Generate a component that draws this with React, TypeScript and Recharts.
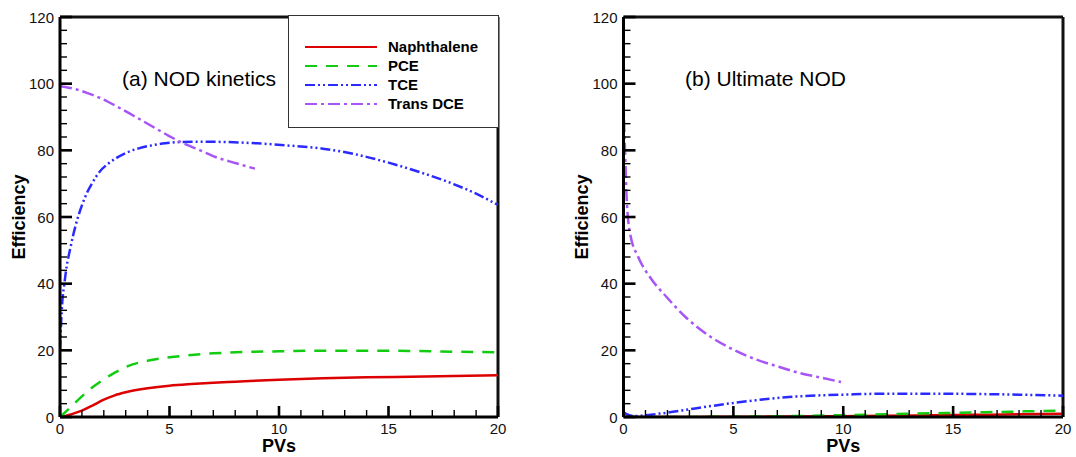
import React from 'react';
import { LineChart, Line, XAxis, YAxis, Legend, ReferenceLine } from 'recharts';

// ---------- data ----------
const naphAX = [0, 0.25, 0.5, 1, 1.5, 2, 2.5, 3, 4, 5, 6, 7, 8, 10, 12, 14, 16, 18, 20];
const naphAY = [0, 0.3, 0.8, 1.9, 3.5, 5.2, 6.5, 7.4, 8.6, 9.4, 9.9, 10.3, 10.6, 11.2, 11.6, 11.9, 12.1, 12.3, 12.5];

const pceAX = [0, 0.5, 1, 1.5, 2, 2.5, 3, 4, 5, 6, 7, 8, 10, 12, 14, 16, 18, 20];
const pceAY = [0, 3.0, 6.2, 9.0, 11.3, 13.3, 15.0, 16.9, 17.9, 18.6, 19.1, 19.4, 19.7, 19.9, 19.9, 19.8, 19.6, 19.4];

const tceAX = [0, 0.05, 0.1, 0.2, 0.3, 0.45, 0.6, 0.8, 1, 1.25, 1.5, 1.8, 2.2, 2.6, 3, 3.6, 4.2, 4.8, 5.5, 6.4, 7.5, 9, 10.5, 12, 13.5, 15, 16.5, 18, 19, 20];
const tceAY = [20, 28, 34, 40, 45, 50, 54.5, 59.5, 63.5, 67.5, 70.5, 73.5, 76, 77.8, 79.2, 80.6, 81.5, 82.1, 82.5, 82.6, 82.5, 82.1, 81.4, 80.5, 78.8, 76.3, 73.3, 69.8, 67, 63.6];

const transAX = [0, 0.4, 0.8, 1.2, 1.8, 2.5, 3.3, 4.1, 4.9, 5.6, 6.4, 7.1, 8, 8.9];
const transAY = [99.2, 98.8, 98.2, 97.3, 95.8, 93.5, 90.6, 87.6, 84.6, 82.2, 80, 78, 76.2, 74.5];

const naphBX = [0, 2, 4, 6, 8, 10, 12, 14, 16, 18, 20];
const naphBY = [0, 0, 0.05, 0.1, 0.15, 0.25, 0.35, 0.5, 0.65, 0.8, 1.0];

const pceBX = [0, 2, 3, 4, 5, 6, 8, 10, 12, 14, 15, 16, 17, 18, 19, 20];
const pceBY = [0, 0, 0, 0.05, 0.1, 0.15, 0.3, 0.55, 0.85, 1.1, 1.25, 1.4, 1.5, 1.65, 1.8, 1.9];

const tceBX = [0, 0.2, 0.5, 1, 1.5, 2, 3, 4, 5, 6, 7, 8, 9, 10, 12, 14, 16, 18, 20];
const tceBY = [1.5, 0.7, 0.3, 0.5, 0.9, 1.3, 2.3, 3.3, 4.2, 5.0, 5.7, 6.2, 6.5, 6.7, 7.0, 7.0, 6.9, 6.7, 6.4];

const transBX = [0, 0.03, 0.07, 0.14, 0.3, 0.67, 1.2, 1.96, 2.87, 3.93, 5, 6.05, 7.1, 8, 9, 9.9];
const transBY = [96, 88, 80, 66, 55, 48, 42, 36, 29.7, 24.2, 20.2, 17.2, 15, 13.2, 11.8, 10.5];

const seriesNames = ['Naphthalene', 'PCE', 'TCE', 'Trans DCE'];
const xTicks = [0, 1, 2, 3, 4, 5, 6, 7, 8, 9, 10, 11, 12, 13, 14, 15, 16, 17, 18, 19, 20];
const yTicks = [0, 4, 8, 12, 16, 20, 24, 28, 32, 36, 40, 44, 48, 52, 56, 60, 64, 68, 72, 76, 80, 84, 88, 92, 96, 100, 104, 108, 112, 116, 120];
const xMajorStep = 5;
const yMajorStep = 20;
const X_MAX = 20;
const Y_MAX = 120;

// ---------- styles ----------
const STYLES = [
  { color: '#dd0000', dash: undefined as string | undefined },
  { color: '#11cc11', dash: '12 9' },
  { color: '#2a2aff', dash: '10 3 2 3 2 3' },
  { color: '#a855f7', dash: '12 4 3 4' },
];

const zip = (xs: number[], ys: number[]) => xs.map((x, i) => ({ x, y: ys[i] }));

const panelA = [zip(naphAX, naphAY), zip(pceAX, pceAY), zip(tceAX, tceAY), zip(transAX, transAY)];
const panelB = [zip(naphBX, naphBY), zip(pceBX, pceBY), zip(tceBX, tceBY), zip(transBX, transBY)];

const FONT = '"Liberation Sans", Arial, sans-serif';
const TM = 6; // tick margin
const TOP = 17;
const XAXIS_H = 40;
const H = 457;

// panel layout: chart left offset, chart width, y-axis width, right margin
const PANELS = [
  { left: 0, width: 530, yw: 60, right: 32, titleX: 18.5, legend: true, data: panelA },
  { left: 560, width: 516, yw: 63.5, right: 13, titleX: 22, legend: false, data: panelB },
];

function YTick(props: any) {
  const x = Number(props.x);
  const y = Number(props.y);
  const v = Number(props.payload.value);
  if (v % yMajorStep !== 0) return <g />;
  return (
    <text x={x} y={y} textAnchor="end" dominantBaseline="central" fontSize={15} fontFamily={FONT} fill="#111">
      {v}
    </text>
  );
}

function XTick(props: any) {
  const x = Number(props.x);
  const y = Number(props.y);
  const v = Number(props.payload.value);
  if (v % xMajorStep !== 0) return <g />;
  return (
    <text x={x} y={y + 11} textAnchor="middle" fontSize={15} fontFamily={FONT} fill="#111">
      {v}
    </text>
  );
}

const yTitle = (cx: number) => (props: any) => {
  const vb = props.viewBox || { x: 0, y: 17, height: 400 };
  const tx = vb.x + cx;
  const ty = vb.y + vb.height / 2;
  return (
    <text
      x={tx}
      y={ty}
      transform={`rotate(-90, ${tx}, ${ty})`}
      textAnchor="middle"
      dominantBaseline="central"
      fontSize={18}
      fontWeight="bold"
      fontFamily={FONT}
      fill="#000"
    >
      Efficiency
    </text>
  );
};

const LegendBox = () => (
  <div
    style={{
      width: 211,
      height: 113,
      boxSizing: 'border-box',
      border: '1.5px solid #333',
      background: '#fff',
    }}
  >
    <svg width={208} height={110}>
      {seriesNames.map((n, i) => {
        const cy = 31 + i * 19;
        return (
          <g key={n}>
            <line x1={16} x2={88} y1={cy} y2={cy} stroke={STYLES[i].color} strokeWidth={2.2} strokeDasharray={STYLES[i].dash} />
            <text x={99} y={cy + 5} fontSize={15} fontWeight="bold" fontFamily={FONT} fill="#000">
              {n}
            </text>
          </g>
        );
      })}
    </svg>
  </div>
);

function renderPanel(p: any) {
  return (
    <LineChart width={p.width} height={H} margin={{ top: TOP, right: p.right, bottom: 0, left: 0 }}>
      <XAxis
        type="number"
        dataKey="x"
        domain={[0, X_MAX]}
        ticks={xTicks}
        interval={0}
        height={XAXIS_H}
        tickSize={0}
        tickMargin={TM}
        tick={(t: any) => <XTick {...t} />}
        tickLine={false}
        axisLine={{ stroke: '#000', strokeWidth: 3 }}
        allowDataOverflow
        label={{ value: 'PVs', position: 'insideBottom', offset: 5, fontSize: 18, fontWeight: 'bold', fontFamily: FONT, fill: '#000' }}
      />
      <YAxis
        type="number"
        dataKey="y"
        domain={[0, Y_MAX]}
        ticks={yTicks}
        interval={0}
        width={p.yw}
        tickSize={0}
        tickMargin={TM}
        tick={(t: any) => <YTick {...t} />}
        tickLine={false}
        axisLine={{ stroke: '#000', strokeWidth: 3 }}
        allowDataOverflow
        label={{ content: yTitle(p.titleX) }}
      />
      <ReferenceLine y={Y_MAX} stroke="#111" strokeWidth={3} />
      <ReferenceLine x={X_MAX} stroke="#111" strokeWidth={3} />
      {p.data.map((d: any, i: number) => (
        <Line
          key={seriesNames[i]}
          data={d}
          dataKey="y"
          name={seriesNames[i]}
          type="monotone"
          stroke={STYLES[i].color}
          strokeWidth={2.5}
          strokeDasharray={STYLES[i].dash}
          dot={false}
          activeDot={false}
          isAnimationActive={false}
        />
      ))}
      {p.legend && (
        <Legend
          layout="horizontal"
          verticalAlign="middle"
          content={() => <LegendBox />}
          wrapperStyle={{ left: 288, top: 15, width: 211, height: 113 }}
        />
      )}
    </LineChart>
  );
}

// inward axis tick marks for each panel (same geometry as the chart's plot area)
function InwardTicks({ p }: any) {
  const x0 = p.left + p.yw;
  const x1 = p.left + p.width - p.right;
  const y0 = H - XAXIS_H;
  const y1 = TOP;
  const sx = (v: number) => x0 + (v / X_MAX) * (x1 - x0);
  const sy = (v: number) => y0 - (v / Y_MAX) * (y0 - y1);
  return (
    <g>
      {yTicks.map((v) => {
        const major = v % yMajorStep === 0;
        return (
          <line key={'y' + v} x1={x0} x2={x0 + (major ? 12 : 7)} y1={sy(v)} y2={sy(v)} stroke="#000" strokeWidth={major ? 2.6 : 1.4} />
        );
      })}
      {xTicks.map((v) => {
        const major = v % xMajorStep === 0;
        return (
          <line key={'x' + v} x1={sx(v)} x2={sx(v)} y1={y0} y2={y0 - (major ? 11 : 7)} stroke="#000" strokeWidth={major ? 2.6 : 1.4} />
        );
      })}
    </g>
  );
}

export default function App() {
  return (
    <div style={{ position: 'absolute', left: 0, top: 0, width: 1076, height: H }}>
      {PANELS.map((p, i) => (
        <div key={i} style={{ position: 'absolute', left: p.left, top: 0 }}>
          {renderPanel(p)}
        </div>
      ))}
      <svg width={1076} height={H} style={{ position: 'absolute', left: 0, top: 0, pointerEvents: 'none' }}>
        {PANELS.map((p, i) => (
          <InwardTicks key={i} p={p} />
        ))}
        <text x={122} y={86} fontSize={21} fontFamily={FONT} fill="#000">(a) NOD kinetics</text>
        <text x={685} y={86} fontSize={21} fontFamily={FONT} fill="#000">(b) Ultimate NOD</text>
      </svg>
    </div>
  );
}
